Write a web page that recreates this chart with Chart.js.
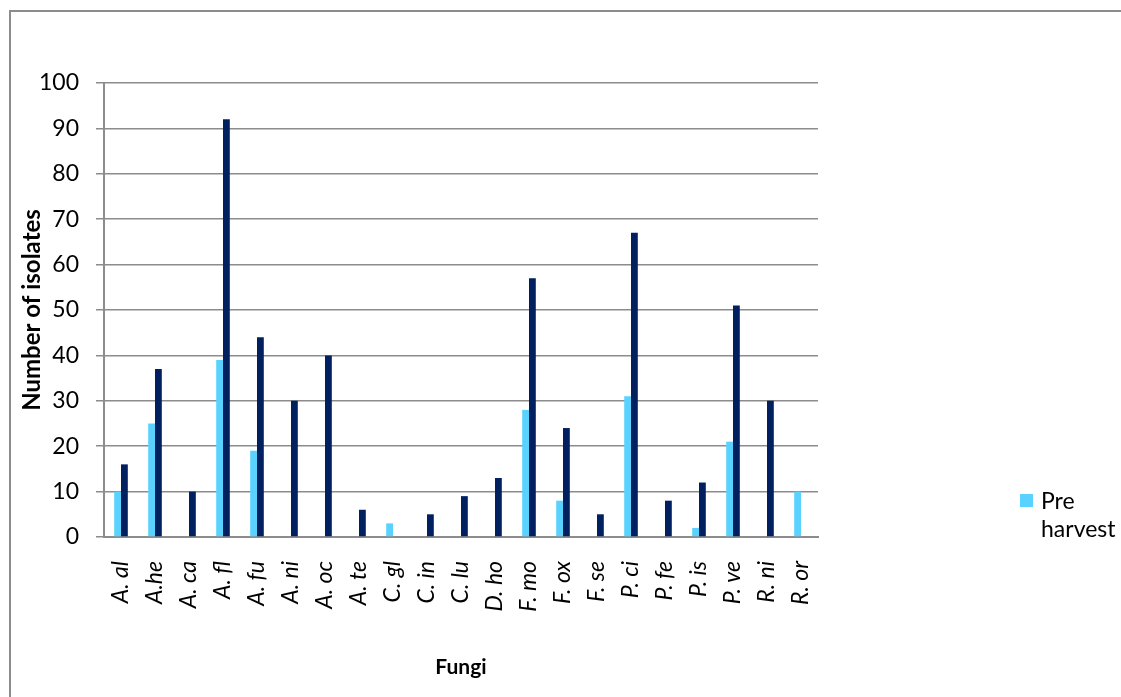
<!DOCTYPE html>
<html><head><meta charset="utf-8">
<script src="https://cdn.jsdelivr.net/npm/chart.js@4/dist/chart.umd.min.js"></script>
<style>html,body{margin:0;padding:0;background:#fff;}#wrap{width:1121px;height:697px;position:relative;}</style>
</head><body><div id="wrap"><canvas id="c" width="1121" height="697"></canvas></div>
<script>
const categories = ["A. al","A.he","A. ca","A. fl","A. fu","A. ni","A. oc","A. te","C. gl","C. in","C. lu","D. ho","F. mo","F. ox","F. se","P. ci","P. fe","P. is","P. ve","R. ni","R. or"];
const preHarvest  = [10,25,0,39,19,0,0,0,3,0,0,0,28,8,0,31,0,2,21,0,10];
const postHarvest = [16,37,10,92,44,30,40,6,0,5,9,13,57,24,5,67,8,12,51,30,0];
const yTicks = [0,10,20,30,40,50,60,70,80,90,100];
const seriesNames = ["Pre harvest","Post harvest"];
const legendLines = ["Pre","harvest"];

const FONT = "Lato, 'Open Sans', sans-serif";

const framePlugin = {
  id:'frame',
  beforeDraw(chart){
    const ctx = chart.ctx;
    ctx.save();
    ctx.fillStyle = '#fff';
    ctx.fillRect(0,0,chart.width,chart.height);
    ctx.strokeStyle = '#8c8c8c';
    ctx.lineWidth = 2;
    ctx.beginPath();
    ctx.moveTo(10, 720);
    ctx.lineTo(10, 11);
    ctx.lineTo(1130, 11);
    ctx.stroke();
    ctx.restore();
  },
  afterDraw(chart){
    const ctx = chart.ctx;
    ctx.save();
    const ds = chart.data.datasets[0];
    ctx.fillStyle = ds.backgroundColor;
    ctx.fillRect(1020, 494, 13, 13);
    ctx.fillStyle = '#000';
    ctx.font = "23px " + FONT;
    ctx.textBaseline = 'middle';
    ctx.fillText(legendLines[0], 1041, 502);
    ctx.fillText(legendLines[1], 1041, 530);
    ctx.restore();
  }
};

new Chart(document.getElementById('c'), {
  type:'bar',
  data:{
    labels: categories,
    datasets:[
      {label: seriesNames[0], data: preHarvest, backgroundColor:'#5AD2FF', barPercentage:1, categoryPercentage:0.4},
      {label: seriesNames[1], data: postHarvest, backgroundColor:'#002060', barPercentage:1, categoryPercentage:0.4}
    ]
  },
  options:{
    responsive:false,
    animation:false,
    layout:{padding:{left:10,top:83,right:303,bottom:0}},
    plugins:{legend:{display:false}, tooltip:{enabled:false}},
    scales:{
      x:{
        grid:{display:false, drawTicks:false},
        border:{display:true, color:'#8c8c8c', width:2},
        ticks:{color:'#000', font:{family:FONT, size:23, style:'italic'}, minRotation:90, maxRotation:90, padding:24, autoSkip:false},
        title:{display:true, text:'Fungi', color:'#000', font:{family:FONT, size:21, weight:'bold'}, padding:{top:0,bottom:17}},
        afterFit(s){ s.height = 160; }
      },
      y:{
        min:0, max:100,
        afterBuildTicks(s){ s.ticks = yTicks.map(v=>({value:v})); },
        grid:{color:'#8c8c8c', lineWidth:1.5, tickLength:8, drawTicks:true},
        border:{display:true, color:'#8c8c8c', width:2},
        ticks:{color:'#000', font:{family:FONT, size:23}, padding:17},
        title:{display:true, text:'Number of isolates', color:'#000', font:{family:FONT, size:24, weight:'bold'}, padding:{top:8,bottom:0}},
        afterFit(s){ s.width = 94; }
      }
    }
  },
  plugins:[framePlugin]
});
</script></body></html>
